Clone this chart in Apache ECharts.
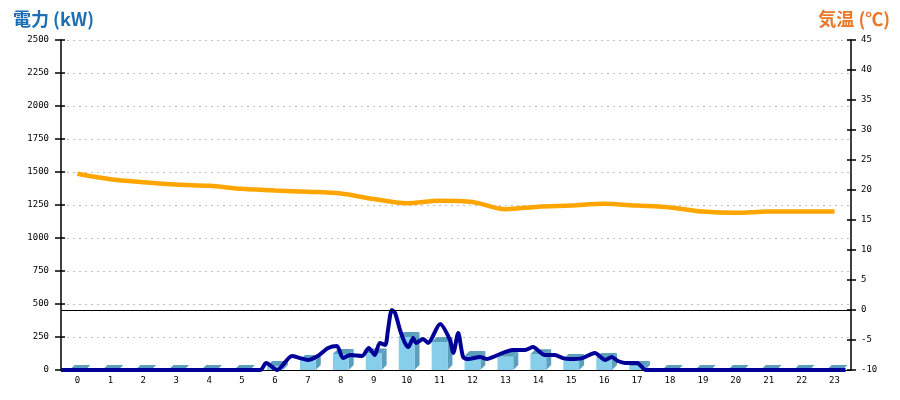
<!DOCTYPE html>
<html>
<head>
<meta charset="utf-8">
<script src="https://cdn.jsdelivr.net/npm/echarts@6/dist/echarts.min.js"></script>
<style>html,body{margin:0;padding:0;background:#fff;}#c{width:900px;height:400px;}</style>
</head>
<body>
<div id="c"></div>
<script>
// ---- data ----
var hours = ['0','1','2','3','4','5','6','7','8','9','10','11','12','13','14','15','16','17','18','19','20','21','22','23'];
// hourly power (kW), bars
var powerHourly = [0,0,0,0,0,0,30,76,121,125,250,212,106,100,120,83,90,30,0,0,0,0,0,0];
// hourly temperature (°C)
var tempHourly = [22.7,21.8,21.3,20.9,20.7,20.2,19.9,19.7,19.4,18.5,17.8,18.2,18.0,16.8,17.2,17.4,17.7,17.4,17.1,16.4,16.2,16.4,16.4,16.4];
// detailed power readings: minute of day, kW
var powerMinutes = [0,363,374,394,421,436,450,468,487,503,514,527,549,561,572,581,591,596,603,609,618,627,633,642,647,660,669,691,709,715,724,733,742,764,777,787,824,846,860,882,900,915,928,950,973,992,1004,1015,1028,1050,1059,1065,1430];
var powerValues  = [0,0,53,0,106,90,76,106,167,182,90,114,106,167,114,205,190,303,455,432,303,205,174,242,205,235,205,348,227,129,280,98,83,98,83,98,152,152,174,114,114,90,83,90,129,76,98,68,53,53,23,0,0];
var powerTicks = {min:0, max:2500, step:250};
var tempTicks = {min:-10, max:45, step:5};

var chart = echarts.init(document.getElementById('c'), null, {renderer:'canvas'});
var lab = {fontFamily:'DejaVu Sans Mono', fontSize:9, color:'#000', formatter:function(v){return String(v);}};
var light = '#87CEEB', dark = '#5b9fbd';

var option = {
  animation:false,
  backgroundColor:'#fff',
  title:[
    {text:'電力 (kW)', left:8, top:5, textStyle:{fontFamily:'Noto Sans CJK JP', fontSize:18, fontWeight:'bold', color:'#1e6eb4'}},
    {text:'気温 (℃)', right:5, top:5, textStyle:{fontFamily:'Noto Sans CJK JP', fontSize:18, fontWeight:'bold', color:'#e8782a'}}
  ],
  grid:{left:61, right:49, top:40, bottom:30, containLabel:false},
  xAxis:[
    {type:'category', data:hours, boundaryGap:true,
     axisLine:{lineStyle:{color:'#000', width:1}}, axisTick:{show:false},
     axisLabel:Object.assign({margin:6, interval:0}, lab), splitLine:{show:false}},
    {type:'value', min:0, max:1440, show:false}
  ],
  yAxis:[
    {type:'value', position:'left', min:powerTicks.min, max:powerTicks.max, interval:powerTicks.step,
     axisLine:{show:true, lineStyle:{color:'#000', width:1.5}},
     axisTick:{show:true, length:6, lineStyle:{color:'#000', width:1.5}},
     axisLabel:Object.assign({margin:12}, lab),
     splitLine:{show:true, lineStyle:{color:'#c0c0c0', width:1, type:[2,4]}}},
    {type:'value', position:'right', min:tempTicks.min, max:tempTicks.max, interval:tempTicks.step,
     axisLine:{show:true, lineStyle:{color:'#000', width:1.5}},
     axisTick:{show:true, length:5, lineStyle:{color:'#000', width:1.5}},
     axisLabel:Object.assign({margin:10}, lab),
     splitLine:{show:false}},
    {type:'value', position:'left', min:powerTicks.min, max:powerTicks.max, interval:powerTicks.step,
     axisLine:{show:false}, axisLabel:{show:false}, splitLine:{show:false},
     axisTick:{show:true, inside:true, length:4, lineStyle:{color:'#000', width:1.5}}},
    {type:'value', position:'right', min:tempTicks.min, max:tempTicks.max, interval:tempTicks.step,
     axisLine:{show:false}, axisLabel:{show:false}, splitLine:{show:false},
     axisTick:{show:true, inside:true, length:4, lineStyle:{color:'#000', width:1.5}}}
  ],
  series:[
    {type:'custom', name:'電力量', xAxisIndex:0, yAxisIndex:0, z:2,
     data: powerHourly.map(function(v,i){return [i,v];}),
     encode:{x:0, y:1},
     renderItem:function(params, api){
       var top = api.coord([api.value(0), api.value(1)]);
       var base = api.coord([api.value(0), 0]);
       var w = api.size([1,0])[0]*0.48;
       var x0 = top[0]-w/2, x1 = top[0]+w/2, yT = top[1], yB = base[1];
       var dx = 5, dy = 5;
       return {type:'group', children:[
         {type:'polygon', shape:{points:[[x1,yB],[x1+dx,yB-dy],[x1+dx,yT-dy],[x1,yT]]}, style:{fill:dark}},
         {type:'polygon', shape:{points:[[x0,yT],[x0+dx,yT-dy],[x1+dx,yT-dy],[x1,yT]]}, style:{fill:dark}},
         {type:'rect', shape:{x:x0, y:yT, width:w, height:yB-yT}, style:{fill:light}}
       ]};
     }},
    {type:'line', name:'気温', xAxisIndex:0, yAxisIndex:1, z:3,
     data: tempHourly, smooth:0.3, showSymbol:false, symbol:'none',
     lineStyle:{color:'#FFA500', width:4.5},
     markLine:{silent:true, symbol:'none', label:{show:false},
       lineStyle:{color:'#000', width:1, type:'solid'}, data:[{yAxis:0}]}},
    {type:'line', name:'電力', xAxisIndex:1, yAxisIndex:0, z:4,
     data: powerMinutes.map(function(m,i){return [m, powerValues[i]];}),
     smooth:0.25, showSymbol:false, symbol:'none',
     lineStyle:{color:'#000099', width:4}}
  ]
};
chart.setOption(option);
</script>
</body>
</html>
